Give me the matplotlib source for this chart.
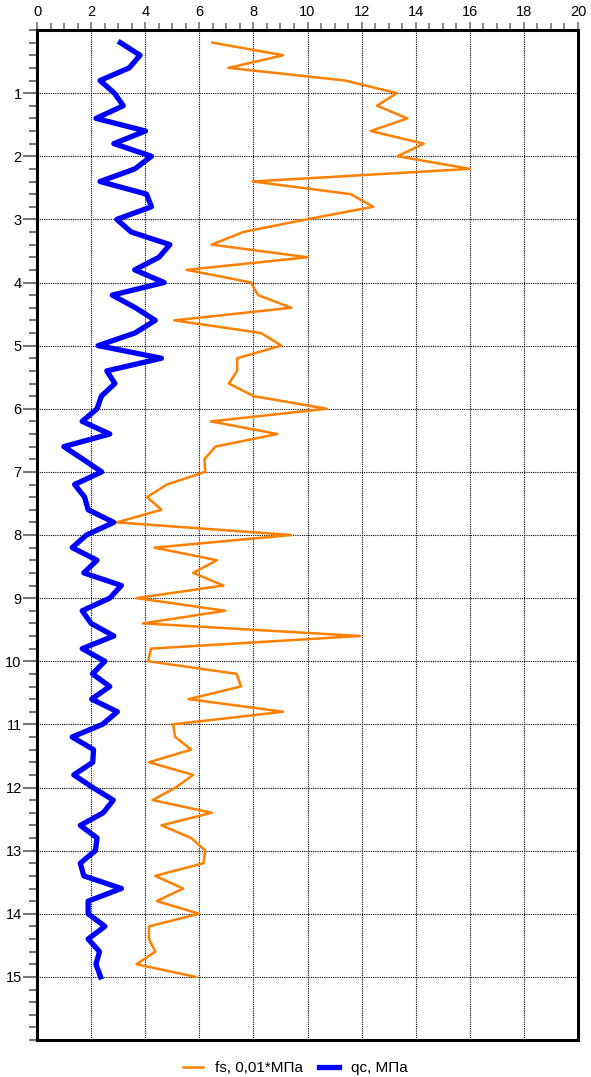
import numpy as np
import matplotlib.pyplot as plt
from matplotlib.ticker import MultipleLocator

plt.rcParams['font.family'] = ['Liberation Sans', 'DejaVu Sans']

# глубина, м (шаг 0.2)
depth = np.round(np.arange(0.2, 15.01, 0.2), 1)

# qc, МПа
qc = [3.08, 3.81, 3.41, 2.33, 2.86, 3.19, 2.18, 4.01, 2.84, 4.23,
      3.62, 2.33, 4.05, 4.23, 2.95, 3.48, 4.91, 4.51, 3.61, 4.70,
      2.78, 3.64, 4.37, 3.62, 2.26, 4.60, 2.58, 2.88, 2.38, 2.22,
      1.67, 2.69, 0.99, 1.70, 2.39, 1.39, 1.76, 1.89, 2.84, 1.83,
      1.30, 2.22, 1.73, 3.12, 2.69, 1.67, 2.00, 2.84, 1.67, 2.51,
      2.05, 2.69, 2.02, 2.97, 2.42, 1.30, 2.09, 2.06, 1.36, 2.06,
      2.82, 2.45, 1.60, 2.22, 2.16, 1.60, 1.73, 3.12, 1.89, 1.89,
      2.51, 1.89, 2.31, 2.18, 2.35]

# fs, 0,01*МПа
fs = [6.48, 9.10, 7.08, 11.38, 13.30, 12.57, 13.69, 12.34, 14.29, 13.33,
      16.00, 7.98, 11.59, 12.43, 9.96, 7.62, 6.46, 10.00, 5.53, 7.91,
      8.17, 9.40, 5.07, 8.28, 9.03, 7.40, 7.40, 7.09, 8.01, 10.71,
      6.43, 8.88, 6.59, 6.19, 6.22, 4.80, 4.07, 4.60, 2.95, 9.40,
      4.34, 6.65, 5.77, 6.89, 3.68, 6.96, 3.92, 11.94, 4.21, 4.11,
      7.38, 7.54, 5.60, 9.10, 5.03, 5.11, 5.70, 4.14, 5.77, 5.13,
      4.27, 6.46, 4.60, 5.70, 6.22, 6.15, 4.37, 5.40, 4.43, 5.99,
      4.14, 4.14, 4.37, 3.68, 5.86]

fig = plt.figure(figsize=(5.91, 10.77), dpi=100)
ax = fig.add_axes([37/591, 37/1077, 541/591, 1010/1077])

ax.plot(fs, depth, color='#ff8000', lw=1.8, label='fs, 0,01*МПа')
ax.plot(qc, depth, color='#0000ff', lw=3.8, label='qc, МПа')

ax.set_xlim(0, 20)
ax.set_ylim(16, 0)
ax.xaxis.set_major_locator(MultipleLocator(2))
ax.xaxis.set_minor_locator(MultipleLocator(0.5))
ax.set_yticks(range(1, 16))
ax.yaxis.set_minor_locator(MultipleLocator(0.2))
ax.xaxis.tick_top()
ax.tick_params(axis='x', which='both', top=True, bottom=False, direction='out',
               color='#777777', labelsize=10.5, pad=2)
ax.tick_params(axis='x', which='major', length=6, width=1.2)
ax.tick_params(axis='x', which='minor', length=5, width=1.2)
ax.tick_params(axis='y', which='both', direction='out', color='#777777',
               labelsize=10.5, width=1.5, pad=1)
ax.tick_params(axis='y', which='major', length=10)
ax.tick_params(axis='y', which='minor', length=6)

ax.grid(True, which='major', color='black', ls=(0, (1, 1)), lw=0.8)
for s in ax.spines.values():
    s.set_linewidth(2.2)

fig.legend(loc='center', bbox_to_anchor=(0.5, 9/1077), ncol=2, frameon=False,
           fontsize=11, handlelength=1.3, columnspacing=1.0)

fig.savefig('out.png', dpi=100)
